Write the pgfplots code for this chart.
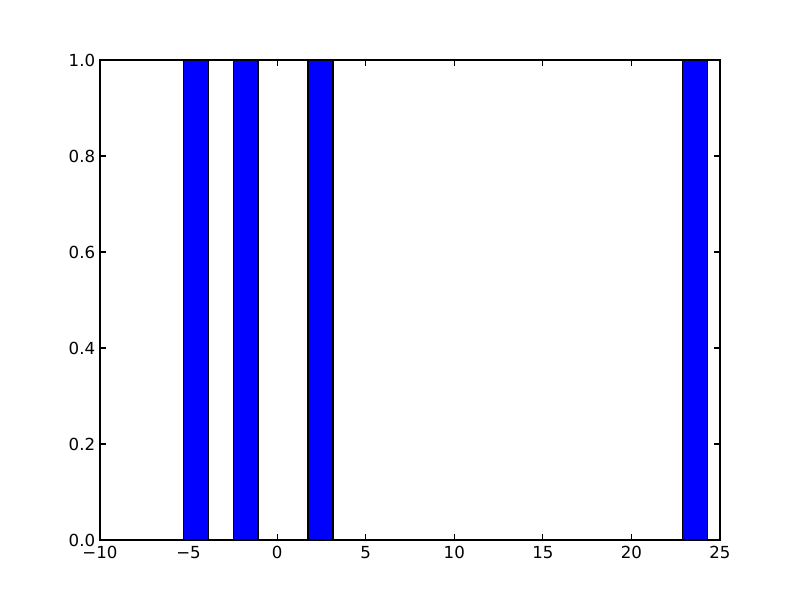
\documentclass[border=0pt]{standalone}
\usepackage{pgfplots}
\pgfplotsset{compat=1.18}
\usepackage{fontspec}
\setmainfont{DejaVu Sans}
\begin{document}
\begin{tikzpicture}
\useasboundingbox (-72bp,-43.2bp) rectangle (504bp,388.8bp);
\begin{axis}[
  at={(0,0)}, anchor=south west,
  scale only axis,
  width=446.4bp, height=345.6bp,
  xmin=-10, xmax=25, ymin=0, ymax=1,
  xtick={-10,-5,0,5,10,15,20,25},
  xticklabels={−10,−5,0,5,10,15,20,25},
  ytick={0,0.2,0.4,0.6,0.8,1.0},
  yticklabels={0.0,0.2,0.4,0.6,0.8,1.0},
  tick align=inside,
  major tick length=4bp,
  tick style={black, line width=0.8pt},
  axis line style={line width=1pt},
  every tick label/.append style={font=\fontsize{12}{14}\selectfont},
  /pgf/number format/assume math mode=true,
  xticklabel style={yshift=-1bp},
]
\addplot[ybar interval, fill={rgb,1:red,0;green,0;blue,1}, draw=black, line width=1pt] coordinates {(-5.30,1) (-3.89,1)};
\addplot[ybar interval, fill={rgb,1:red,0;green,0;blue,1}, draw=black, line width=1pt] coordinates {(-2.48,1) (-1.07,1)};
\addplot[ybar interval, fill={rgb,1:red,0;green,0;blue,1}, draw=black, line width=1pt] coordinates {(1.75,1) (3.16,1)};
\addplot[ybar interval, fill={rgb,1:red,0;green,0;blue,1}, draw=black, line width=1pt] coordinates {(22.90,1) (24.31,1)};
\end{axis}
\end{tikzpicture}
\end{document}
